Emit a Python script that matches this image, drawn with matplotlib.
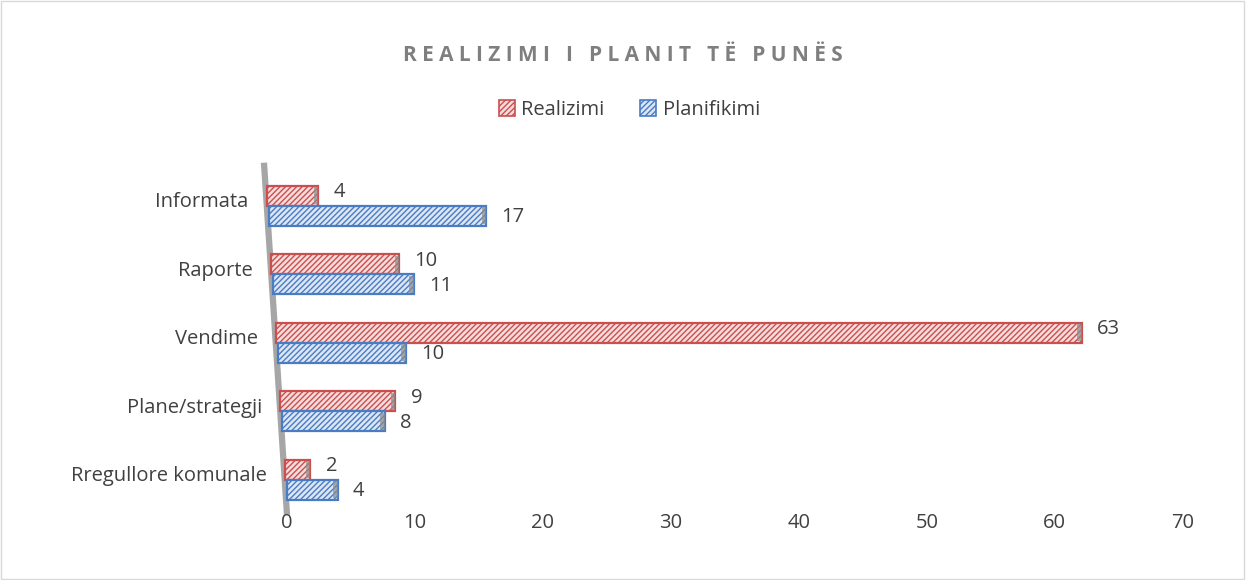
import numpy as np
import matplotlib
matplotlib.use('Agg')
import matplotlib.pyplot as plt
from matplotlib.patches import Rectangle, Patch

categories = ['Rregullore komunale', 'Plane/strategji', 'Vendime', 'Raporte', 'Informata']
realizimi = [2, 9, 63, 10, 4]
planifikimi = [4, 8, 10, 11, 17]
x_ticks = [0, 10, 20, 30, 40, 50, 60, 70]

red = '#C9504F'
red_fill = '#F6DCDC'
blue = '#4A7CC4'
blue_fill = '#DCE6F4'
text_col = '#404040'
fs = 14.5

plt.rcParams['font.family'] = ['Open Sans', 'DejaVu Sans']
plt.rcParams['hatch.linewidth'] = 1.0

fig = plt.figure(figsize=(12.46, 5.80), dpi=100)
ax = fig.add_axes([0.2098, 0.1172, 0.760, 0.607])

y = np.arange(len(categories))
bar_h = 0.29

# slanted "wall" of the 3d chart
wall_top = (-1.8, 4.63)
wall_bottom = (0.0, -0.51)
slope = (wall_top[0] - wall_bottom[0]) / (wall_top[1] - wall_bottom[1])
lefts = wall_bottom[0] + (y - wall_bottom[1]) * slope

ax.plot([wall_top[0], wall_bottom[0]], [wall_top[1], wall_bottom[1]], color='#A6A6A6', lw=4.5,
        solid_capstyle='butt', zorder=1, clip_on=False)

ax.barh(y + bar_h / 2, realizimi, height=bar_h, left=lefts, color=red_fill, edgecolor=red,
        hatch='//////', linewidth=1.6, zorder=3)
ax.barh(y - bar_h / 2, planifikimi, height=bar_h, left=lefts + 0.15, color=blue_fill, edgecolor=blue,
        hatch='//////', linewidth=1.6, zorder=3)

# small grey side faces at the bar ends
for i in range(len(categories)):
    ax.add_patch(Rectangle((lefts[i] + realizimi[i] - 0.35, y[i] + 0.02), 0.35, bar_h - 0.04,
                           facecolor='#8C8C8C', edgecolor='none', alpha=0.7, zorder=4))
    ax.add_patch(Rectangle((lefts[i] + 0.15 + planifikimi[i] - 0.35, y[i] - bar_h + 0.02), 0.35, bar_h - 0.04,
                           facecolor='#8C8C8C', edgecolor='none', alpha=0.7, zorder=4))

for i in range(len(categories)):
    ax.annotate(str(realizimi[i]), (lefts[i] + realizimi[i], y[i] + bar_h / 2 + 0.05),
                xytext=(11, 0), textcoords='offset points', va='center', ha='left',
                fontsize=fs, color=text_col, zorder=5)
    ax.annotate(str(planifikimi[i]), (lefts[i] + 0.15 + planifikimi[i], y[i] - bar_h / 2 - 0.02),
                xytext=(11, 0), textcoords='offset points', va='center', ha='left',
                fontsize=fs, color=text_col, zorder=5)
    ax.annotate(categories[i], (lefts[i], y[i] + 0.05), xytext=(-13, 0), textcoords='offset points',
                va='center', ha='right', fontsize=fs, color=text_col)

ax.set_xlim(-2, 72)
ax.set_ylim(-0.47, 4.67)
ax.set_xticks(x_ticks)
ax.set_xticklabels([str(t) for t in x_ticks], fontsize=fs, color=text_col)
ax.set_yticks([])
ax.tick_params(axis='x', length=0, pad=1)
for s in ax.spines.values():
    s.set_visible(False)

fig.text(0.4995, 0.905, 'R E A L I Z I M I   I   P L A N I T   T Ë   P U N Ë S',
         ha='center', va='center', fontsize=15, fontweight='bold', color='#7F7F7F')

handles = [Patch(facecolor=red_fill, edgecolor=red, hatch='//////', linewidth=1.2, label='Realizimi'),
           Patch(facecolor=blue_fill, edgecolor=blue, hatch='//////', linewidth=1.2, label='Planifikimi')]
fig.legend(handles=handles, loc='center', bbox_to_anchor=(0.505, 0.81), ncol=2, frameon=False,
           fontsize=fs, handlelength=0.8, handleheight=0.8, handletextpad=0.3, columnspacing=1.8,
           labelcolor=text_col)

fig.add_artist(Rectangle((0.001, 0.002), 0.997, 0.996, transform=fig.transFigure, fill=False,
                         edgecolor='#D9D9D9', linewidth=1))

fig.savefig('out.png', dpi=100)
